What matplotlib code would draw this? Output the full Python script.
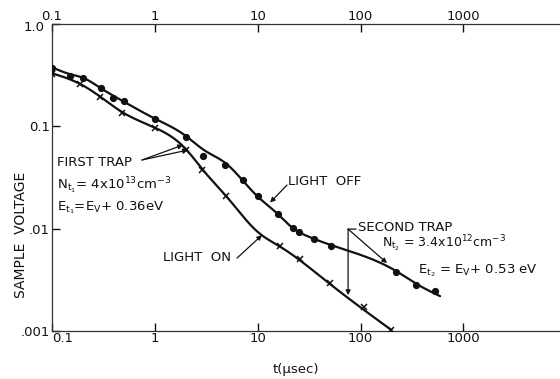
import numpy as np
import matplotlib
matplotlib.use("Agg")
import matplotlib.pyplot as plt
from matplotlib.transforms import ScaledTranslation

plt.rcParams['font.family'] = ['DejaVu Sans']
plt.rcParams['mathtext.default'] = 'regular'

# Measured points (t in microseconds, sample voltage in volts)
off_t = [0.1, 0.15, 0.2, 0.3, 0.39, 0.5, 1.0, 2.0, 2.95, 4.8, 7.2, 10, 15.7,
         22, 25, 35, 52, 222, 347, 531]
off_v = [0.375, 0.31, 0.30, 0.235, 0.19, 0.178, 0.117, 0.079, 0.0515, 0.042,
         0.0296, 0.0207, 0.014, 0.0102, 0.0092, 0.0079, 0.0068, 0.0038,
         0.00284, 0.00244]

on_t = [0.1, 0.187, 0.29, 0.475, 1.0, 2.0, 2.9, 4.97, 16.4, 25.6, 50, 109, 199]
on_v = [0.323, 0.258, 0.195, 0.135, 0.096, 0.059, 0.0377, 0.0207, 0.0067,
        0.00505, 0.00295, 0.0017, 0.00103]

# Hand-drawn fit curves through the measurements
off_fit_t = [0.1, 0.149, 0.2, 0.3, 0.5, 1.0, 2.0, 3.0, 5.0, 7.2, 10, 15.7,
             22, 30, 52, 222, 347, 594]
off_fit_v = [0.377, 0.324, 0.298, 0.235, 0.174, 0.119, 0.0806, 0.0587,
             0.0428, 0.0293, 0.0206, 0.0139, 0.0101, 0.0085, 0.0069, 0.00385,
             0.0029, 0.00219]

on_fit_t = [0.1, 0.187, 0.29, 0.48, 1.0, 2.0, 2.9, 5.0, 10, 16.4, 50, 200]
on_fit_v = [0.33, 0.26, 0.197, 0.138, 0.097, 0.060, 0.038, 0.0205, 0.0093,
            0.0067, 0.0029, 0.00102]

x_ticks = [0.1, 1, 10, 100, 1000]
x_tick_labels = ["0.1", "1", "10", "100", "1000"]
y_ticks = [0.001, 0.01, 0.1, 1.0]
y_tick_labels = [".001", ".01", "0.1", "1.0"]


def natural_spline(x, y, xn):
    x = np.asarray(x, float)
    y = np.asarray(y, float)
    n = len(x)
    h = np.diff(x)
    A = np.zeros((n, n))
    r = np.zeros(n)
    A[0, 0] = A[-1, -1] = 1.0
    for i in range(1, n - 1):
        A[i, i - 1] = h[i - 1]
        A[i, i] = 2 * (h[i - 1] + h[i])
        A[i, i + 1] = h[i]
        r[i] = 6 * ((y[i + 1] - y[i]) / h[i] - (y[i] - y[i - 1]) / h[i - 1])
    M = np.linalg.solve(A, r)
    i = np.clip(np.searchsorted(x, xn) - 1, 0, n - 2)
    a = x[i + 1] - xn
    b = xn - x[i]
    hi = h[i]
    return (M[i] * a**3 / (6 * hi) + M[i + 1] * b**3 / (6 * hi)
            + (y[i] / hi - M[i] * hi / 6) * a
            + (y[i + 1] / hi - M[i + 1] * hi / 6) * b)


def smooth_curve(t, v):
    lt, lv = np.log10(t), np.log10(v)
    xs = np.linspace(lt[0], lt[-1], 500)
    return 10**xs, 10**natural_spline(lt, lv, xs)


fig = plt.figure(figsize=(5.6, 3.79), dpi=100)
ax = fig.add_axes([52 / 560, 1 - 331 / 379, 1 - 52 / 560, (331 - 24) / 379])
ax.set_xscale('log')
ax.set_yscale('log')
ax.set_xlim(0.1, 8700)
ax.set_ylim(0.001, 1.0)

ink = '#111111'
for t, v in ((off_fit_t, off_fit_v), (on_fit_t, on_fit_v)):
    ct, cv = smooth_curve(t, v)
    ax.plot(ct, cv, color=ink, lw=1.6, solid_capstyle='round', zorder=3)

ax.plot(off_t, off_v, 'o', color=ink, ms=4.2, zorder=4)
ax.plot(on_t, on_v, 'x', color=ink, ms=4.5, mew=1.1, zorder=4)

# axes frame
for side in ('left', 'top', 'bottom'):
    ax.spines[side].set_linewidth(0.9)
    ax.spines[side].set_color('#333333')
ax.spines['right'].set_visible(False)

ax.set_xticks(x_ticks, x_tick_labels)
ax.set_yticks(y_ticks, y_tick_labels)
ax.minorticks_off()
ax.tick_params(axis='x', which='major', direction='in', length=6, width=1.0,
               top=True, labeltop=True, labelsize=9.5, pad=0.8, colors=ink)
ax.tick_params(axis='y', which='major', direction='in', length=6, width=1.0,
               labelsize=9.5, pad=1.5, colors=ink)
ax.get_xticklabels()[0].set_horizontalalignment('left')
# the top "1.0" label sits a little lower and further left than the others
top_ylabel = ax.get_yticklabels()[-1]
top_ylabel.set_transform(top_ylabel.get_transform()
                         + ScaledTranslation(-5 / 100, -2 / 100, fig.dpi_scale_trans))

fig.text(21 / 560, 1 - 235 / 379, 'SAMPLE  VOLTAGE', rotation=90,
         ha='center', va='center', fontsize=10, color=ink)
fig.text(296 / 560, 1 - 370 / 379, 't(μsec)', ha='center', va='center',
         fontsize=9.5, color=ink)

fs = 9.5
arrow = dict(arrowstyle='-|>', color=ink, lw=0.9, mutation_scale=7,
             shrinkA=0, shrinkB=0)
line = dict(arrowstyle='-', color=ink, lw=0.9, shrinkA=0, shrinkB=0)

# first trap
ax.text(0.112, 0.0448, 'FIRST TRAP', fontsize=fs, va='center', ha='left', color=ink)
ax.annotate('', xy=(1.88, 0.0657), xytext=(0.75, 0.0469), arrowprops=arrow)
ax.annotate('', xy=(2.10, 0.0587), xytext=(0.75, 0.0469), arrowprops=arrow)
ax.text(0.112, 0.0262, r'N$_{t_1}$= 4x10$^{13}$cm$^{-3}$', fontsize=fs,
        va='center', ha='left', color=ink)
ax.text(0.112, 0.0159, r'E$_{t_1}$=E$_V$+ 0.36eV', fontsize=fs,
        va='center', ha='left', color=ink)

# curve labels
ax.text(19.6, 0.0292, 'LIGHT  OFF', fontsize=fs, va='center', ha='left', color=ink)
ax.annotate('', xy=(13.2, 0.018), xytext=(19.3, 0.0267), arrowprops=arrow)
ax.text(1.20, 0.00527, 'LIGHT  ON', fontsize=fs, va='center', ha='left', color=ink)
ax.annotate('', xy=(11.0, 0.00865), xytext=(6.3, 0.00516), arrowprops=arrow)

# second trap
ax.text(94.8, 0.0102, 'SECOND TRAP', fontsize=fs, va='center', ha='left', color=ink)
ax.annotate('', xy=(90.6, 0.0099), xytext=(75.7, 0.0099), arrowprops=line)
ax.annotate('', xy=(75.7, 0.00224), xytext=(75.7, 0.0099), arrowprops=arrow)
ax.annotate('', xy=(181, 0.00461), xytext=(75.7, 0.0099), arrowprops=arrow)
ax.text(162, 0.0071, r'N$_{t_2}$ = 3.4x10$^{12}$cm$^{-3}$', fontsize=9,
        va='center', ha='left', color=ink)
ax.text(363, 0.0039, r'E$_{t_2}$ = E$_V$+ 0.53 eV', fontsize=fs,
        va='center', ha='left', color=ink)

fig.savefig('out.png', dpi=100, facecolor='white')
